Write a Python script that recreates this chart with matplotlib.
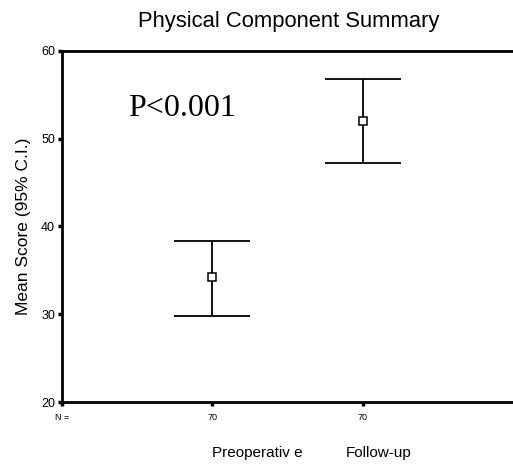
import numpy as np
import matplotlib
matplotlib.use("Agg")
import matplotlib.pyplot as plt
import matplotlib.transforms as mtransforms

plt.rcParams["font.family"] = ["Liberation Sans", "DejaVu Sans"]

groups = ["Preoperativ e", "Follow-up"]
n_counts = [70, 70]
means = np.array([34.2, 52.0])
lower = np.array([29.8, 47.2])
upper = np.array([38.3, 56.8])

fig = plt.figure(figsize=(5.13, 4.72), dpi=100)
ax = fig.add_axes([0.1209, 0.1483, 0.8791, 0.7437])

x = np.arange(1, len(groups) + 1)
ax.errorbar(x, means, yerr=[means - lower, upper - means], fmt="none",
            ecolor="black", elinewidth=1.3, capsize=27.4, capthick=1.3)
ax.plot(x, means, ls="none", marker="s", ms=5.5, mfc="white", mec="black", mew=1.1)

ax.set_xlim(0, 3.0)
ax.set_ylim(20, 60)
ax.set_yticks([20, 30, 40, 50, 60])
ax.set_xticks([0] + list(x))
ax.set_xticklabels(["N ="] + [str(v) for v in n_counts], fontsize=6.5)
ax.tick_params(axis="y", labelsize=9, length=3, width=2.5, pad=2)
ax.tick_params(axis="x", length=3, width=2.5, pad=5)

for side in ["left", "bottom", "top"]:
    ax.spines[side].set_linewidth(2)
ax.spines["right"].set_visible(False)

ax.set_ylabel("Mean Score (95% C.I.)", fontsize=12.5, labelpad=7)
fig.text(0.563, 0.955, "Physical Component Summary", ha="center", va="center", fontsize=15.8)

ax.text(0.146, 0.835, "P<0.001", transform=ax.transAxes, fontsize=23,
        family=["Liberation Serif", "DejaVu Serif"], ha="left", va="center")

trans = mtransforms.blended_transform_factory(ax.transData, ax.transAxes)
label_x = [1.0, 1.887]
for lx, g in zip(label_x, groups):
    ax.text(lx, -0.145, g, transform=trans, ha="left", va="center", fontsize=11)

fig.savefig("out.png", dpi=100)
